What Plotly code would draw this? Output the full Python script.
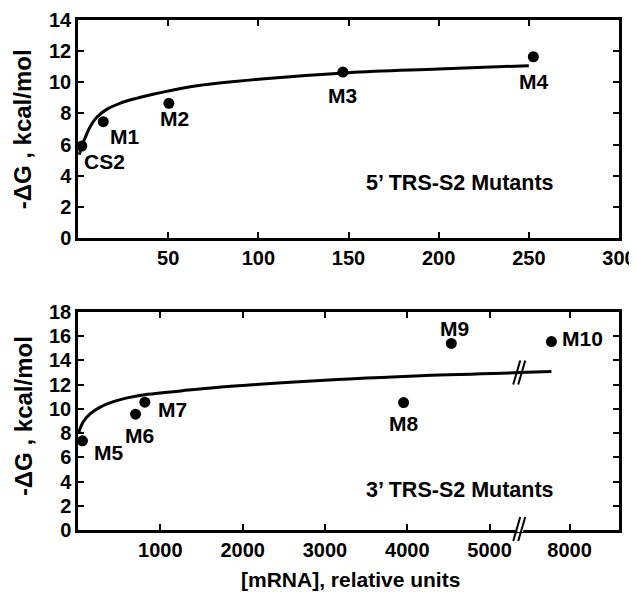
import plotly.graph_objects as go

# ---------------- data ----------------
# top panel: 5' TRS-S2 mutants
top_names = ["CS2", "M1", "M2", "M3", "M4"]
top_x = [2.1, 14.0, 50.4, 146.9, 252.5]
top_y = [5.91, 7.47, 8.65, 10.66, 11.64]
top_curve_x = [0.8, 2, 4, 6.7, 10.4, 15.9, 23.2, 32.4, 41.6, 50.8, 67, 100, 150, 200, 250]
top_curve_y = [5.35, 5.9, 6.45, 7.15, 7.75, 8.26, 8.65, 8.97, 9.23, 9.46, 9.8, 10.2, 10.62, 10.85, 11.07]

# bottom panel: 3' TRS-S2 mutants
bot_names = ["M5", "M6", "M7", "M8", "M9", "M10"]
bot_x = [54, 699, 812, 3955, 4535, 7779]
bot_y = [7.36, 9.56, 10.55, 10.52, 15.4, 15.56]
bot_curve_x = [5, 60, 150, 270, 430, 630, 850, 1270, 1680, 2080, 2480, 2890, 3290,
               3690, 4090, 4500, 4900, 5300, 5360, 7779]
bot_curve_y = [7.95, 8.9, 9.6, 10.15, 10.6, 10.95, 11.2, 11.5, 11.77, 11.97, 12.15,
               12.32, 12.47, 12.6, 12.72, 12.81, 12.89, 12.98, 13.0, 13.08]

top_xticks = [50, 100, 150, 200, 250, 300]
top_yticks = [0, 2, 4, 6, 8, 10, 12, 14]
bot_xticks = [1000, 2000, 3000, 4000, 5000, 8000]
bot_yticks = [0, 2, 4, 6, 8, 10, 12, 14, 16, 18]

# broken x axis (bottom panel)
BREAK_LO = 5360
BREAK_HI = 7388


def pos(v):
    return v if v <= BREAK_LO else v - (BREAK_HI - BREAK_LO)


FONT = "Liberation Sans, Arial, Helvetica, sans-serif"

fig = go.Figure()

fig.add_trace(go.Scatter(x=top_curve_x, y=top_curve_y, mode="lines",
                         line=dict(color="black", width=3, shape="spline"),
                         xaxis="x", yaxis="y", showlegend=False, hoverinfo="skip"))
fig.add_trace(go.Scatter(x=top_x, y=top_y, mode="markers",
                         marker=dict(color="black", size=11),
                         xaxis="x", yaxis="y", showlegend=False))

fig.add_trace(go.Scatter(x=[pos(v) for v in bot_curve_x], y=bot_curve_y, mode="lines",
                         line=dict(color="black", width=3, shape="spline"),
                         xaxis="x2", yaxis="y2", showlegend=False, hoverinfo="skip"))
fig.add_trace(go.Scatter(x=[pos(v) for v in bot_x], y=bot_y, mode="markers",
                         marker=dict(color="black", size=11),
                         xaxis="x2", yaxis="y2", showlegend=False))

axis_common = dict(showline=True, linecolor="black", linewidth=2.5, mirror="ticks",
                   ticks="inside", ticklen=6, tickwidth=2, tickcolor="black",
                   showgrid=False, zeroline=False, automargin=False,
                   ticklabeloverflow="allow",
                   tickfont=dict(family=FONT, size=20, color="black", weight="bold"))

# the page body adds an 8px offset, so the figure is 8px smaller than the window
fig.update_layout(
    width=629, height=584,
    margin=dict(l=70, r=18, t=12, b=62, autoexpand=False),
    paper_bgcolor="white", plot_bgcolor="white",
    font=dict(family=FONT, size=20, color="black", weight="bold"),
    xaxis=dict(domain=[0, 1], range=[0, 300], anchor="y",
               tickvals=top_xticks, ticktext=[str(v) for v in top_xticks], **axis_common),
    yaxis=dict(domain=[0.5725, 1.0], range=[0, 14], anchor="x",
               tickvals=top_yticks, **axis_common),
    xaxis2=dict(domain=[0, 1], range=[0, pos(8000) + 600], anchor="y2",
                tickvals=[pos(v) for v in bot_xticks], ticktext=[str(v) for v in bot_xticks],
                **axis_common),
    yaxis2=dict(domain=[0, 0.4275], range=[0, 18], anchor="x2",
                tickvals=bot_yticks, **axis_common),
)

ann_font = dict(family=FONT, size=21, color="black", weight="bold")
top_offsets = [(23, -16), (21, -15), (6, -15), (0, -23), (0, -25)]
for n, x, y, (dx, dy) in zip(top_names, top_x, top_y, top_offsets):
    fig.add_annotation(x=x, y=y, xref="x", yref="y", text=n, showarrow=False,
                       xanchor="center", yanchor="middle",
                       xshift=dx, yshift=dy, font=ann_font)
bot_offsets = [(26, -12), (4, -21), (28, -7), (0, -21), (3, 15), (31, 3)]
for n, x, y, (dx, dy) in zip(bot_names, bot_x, bot_y, bot_offsets):
    fig.add_annotation(x=pos(x), y=y, xref="x2", yref="y2", text=n, showarrow=False,
                       xanchor="center", yanchor="middle",
                       xshift=dx, yshift=dy, font=ann_font)

mut_font = dict(family=FONT, size=21.5, color="black", weight="bold")
fig.add_annotation(x=0.707, y=0.252, xref="x domain", yref="y domain",
                   xanchor="center", yanchor="middle",
                   text="5\u2019 TRS-S2 Mutants", showarrow=False, font=mut_font)
fig.add_annotation(x=0.707, y=0.183, xref="x2 domain", yref="y2 domain",
                   xanchor="center", yanchor="middle",
                   text="3\u2019 TRS-S2 Mutants", showarrow=False, font=mut_font)

ytitle_font = dict(family=FONT, size=24, color="black", weight="bold")
xtitle_font = dict(family=FONT, size=21, color="black", weight="bold")
fig.add_annotation(x=-0.101, y=0.7863, xref="paper", yref="paper", textangle=-90,
                   xanchor="center", yanchor="middle",
                   text="-\u0394G , kcal/mol", showarrow=False, font=ytitle_font)
fig.add_annotation(x=-0.101, y=0.224, xref="paper", yref="paper", textangle=-90,
                   xanchor="center", yanchor="middle",
                   text="-\u0394G , kcal/mol", showarrow=False, font=ytitle_font)
fig.add_annotation(x=0.504, y=-0.098, xref="paper", yref="paper",
                   xanchor="center", yanchor="middle",
                   text="[mRNA], relative units", showarrow=False, font=xtitle_font)

# axis-break marks
bx = pos(BREAK_LO)
fig.add_shape(type="line", xref="x2", yref="y2 domain", xsizemode="pixel", ysizemode="pixel",
              xanchor=bx, yanchor=0, x0=-2, x1=4, y0=0, y1=0,
              line=dict(color="white", width=4), layer="above")
for off in (-3, 2):
    fig.add_shape(type="line", xref="x2", yref="y2 domain", xsizemode="pixel",
                  ysizemode="pixel", xanchor=bx, yanchor=0,
                  x0=off - 3, x1=off + 4, y0=-11, y1=13,
                  line=dict(color="black", width=2), layer="above")
    fig.add_shape(type="line", xref="x2", yref="y2", xsizemode="pixel",
                  ysizemode="pixel", xanchor=bx, yanchor=13.0,
                  x0=off - 3, x1=off + 4, y0=-12, y1=12,
                  line=dict(color="black", width=2), layer="above")

fig.write_html("out.html")
